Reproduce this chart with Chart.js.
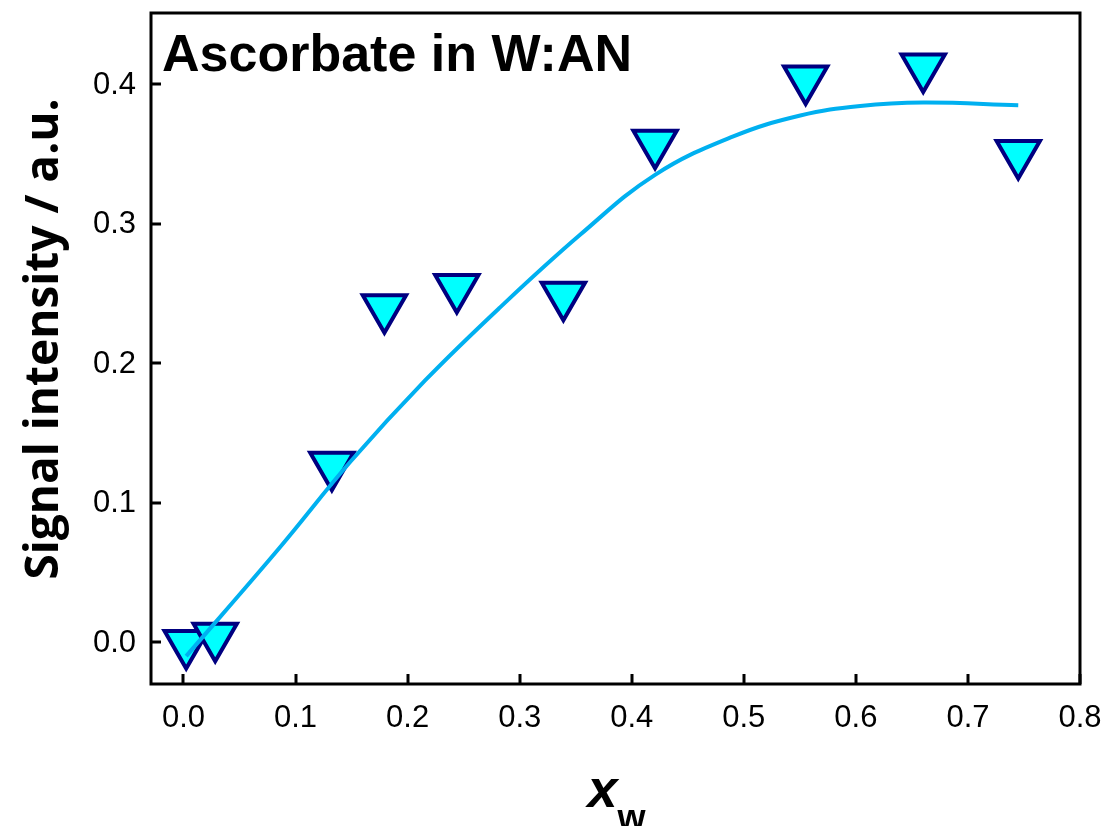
<!DOCTYPE html>
<html>
<head>
<meta charset="utf-8">
<script src="https://cdn.jsdelivr.net/npm/chart.js@4.4.1/dist/chart.umd.min.js"></script>
<style>
  html, body { margin: 0; padding: 0; background: #fff; }
  #wrap { width: 1108px; height: 826px; }
</style>
</head>
<body>
<div id="wrap"><canvas id="signal-canvas" width="1108" height="826"></canvas></div>
<script>
// measured signal vs. water mole fraction
const xw = [0.0024, 0.0283, 0.1324, 0.1793, 0.2439, 0.3390, 0.4208, 0.5552, 0.6601, 0.7449];
const signal = [-0.001, 0.0042, 0.1268, 0.2397, 0.2542, 0.2486, 0.3577, 0.4036, 0.4123, 0.3503];

// fitted curve
const fitX = [0.0024, 0.0863, 0.1487, 0.2156, 0.2825, 0.3539, 0.4208, 0.4906, 0.5504, 0.6039, 0.6601, 0.7449];
const fitY = [-0.010, 0.0682, 0.1291, 0.1876, 0.2400, 0.2920, 0.3350, 0.3625, 0.3775, 0.3844, 0.3868, 0.3849];

// tick labels
const xTicks = [0.0, 0.1, 0.2, 0.3, 0.4, 0.5, 0.6, 0.7, 0.8];
const yTicks = [0.0, 0.1, 0.2, 0.3, 0.4];

const chartTitle = 'Ascorbate in W:AN';
const yTitle = 'Signal intensity / a.u.';

const tickFont = '31px "Liberation Sans", Arial, sans-serif';

const ctx = document.getElementById('signal-canvas').getContext('2d');

// box around the plot area, inward ticks with labels, and the titles
const framePlugin = {
    id: 'frame',
    afterDatasetsDraw(chart) {
        const c = chart.ctx;
        const a = chart.chartArea;
        const xs = chart.scales.x;
        const ys = chart.scales.y;
        c.save();
        c.strokeStyle = '#000';
        c.lineWidth = 3;
        c.lineCap = 'square';
        c.strokeRect(a.left, a.top, a.right - a.left, a.bottom - a.top);

        c.beginPath();
        xTicks.forEach(v => {
            const px = Math.round(xs.getPixelForValue(v));
            c.moveTo(px, a.bottom);
            c.lineTo(px, a.bottom - 10);
        });
        yTicks.forEach(v => {
            const py = Math.round(ys.getPixelForValue(v));
            c.moveTo(a.left, py);
            c.lineTo(a.left + 10, py);
        });
        c.lineCap = 'butt';
        c.stroke();

        // tick labels
        c.fillStyle = '#000';
        c.font = tickFont;
        c.textBaseline = 'middle';
        c.textAlign = 'center';
        xTicks.forEach(v => {
            c.fillText(v.toFixed(1), xs.getPixelForValue(v), a.bottom + 34);
        });
        c.textAlign = 'right';
        yTicks.forEach(v => {
            c.fillText(v.toFixed(1), a.left - 15, ys.getPixelForValue(v) + 1);
        });

        // panel title
        c.textBaseline = 'alphabetic';
        c.textAlign = 'left';
        c.font = 'bold 52px "Liberation Sans", Arial, sans-serif';
        c.fillText(chartTitle, a.left + 11, a.top + 58);

        // x axis title: italic x with subscript w
        const cx = (a.left + a.right) / 2;
        c.font = 'italic bold 54px "Liberation Sans", Arial, sans-serif';
        c.fillText('x', cx - 28, 807);
        c.font = 'bold 36px "Liberation Sans", Arial, sans-serif';
        c.fillText('w', cx + 2, 830);

        // y axis title
        c.save();
        c.translate(58, 339);
        c.rotate(-Math.PI / 2);
        c.textAlign = 'center';
        c.font = 'bold 46px "Open Sans", "Noto Sans", sans-serif';
        c.fillText(yTitle, 0, 0);
        c.restore();
        c.restore();
    }
};

const signalChart = new Chart(ctx, {
    type: 'scatter',
    data: {
        datasets: [
            {
                label: 'fit',
                data: fitX.map((x, i) => ({ x: x, y: fitY[i] })),
                showLine: true,
                borderColor: '#00B0F0',
                borderWidth: 4,
                pointRadius: 0,
                tension: 0.4,
                fill: false
            },
            {
                label: 'Ascorbate',
                data: xw.map((x, i) => ({ x: x, y: signal[i] })),
                pointStyle: 'triangle',
                rotation: 180,
                pointRadius: 25,
                pointBackgroundColor: '#00FFFF',
                pointBorderColor: '#000080',
                pointBorderWidth: 4
            }
        ]
    },
    options: {
        responsive: false,
        animation: false,
        layout: {
            autoPadding: false,
            padding: { top: 13, right: 28, left: 0, bottom: 0 }
        },
        plugins: {
            legend: { display: false },
            tooltip: { enabled: false }
        },
        scales: {
            x: {
                type: 'linear',
                min: -0.029,
                max: 0.8,
                afterBuildTicks: scale => { scale.ticks = xTicks.map(v => ({ value: v })); },
                afterFit: scale => { scale.height = 142; },
                grid: { display: false, drawTicks: false },
                border: { display: false },
                ticks: { display: false }
            },
            y: {
                type: 'linear',
                min: -0.03,
                max: 0.451,
                afterBuildTicks: scale => { scale.ticks = yTicks.map(v => ({ value: v })); },
                afterFit: scale => { scale.width = 151; },
                grid: { display: false, drawTicks: false },
                border: { display: false },
                ticks: { display: false }
            }
        }
    },
    plugins: [framePlugin]
});
</script>
</body>
</html>
